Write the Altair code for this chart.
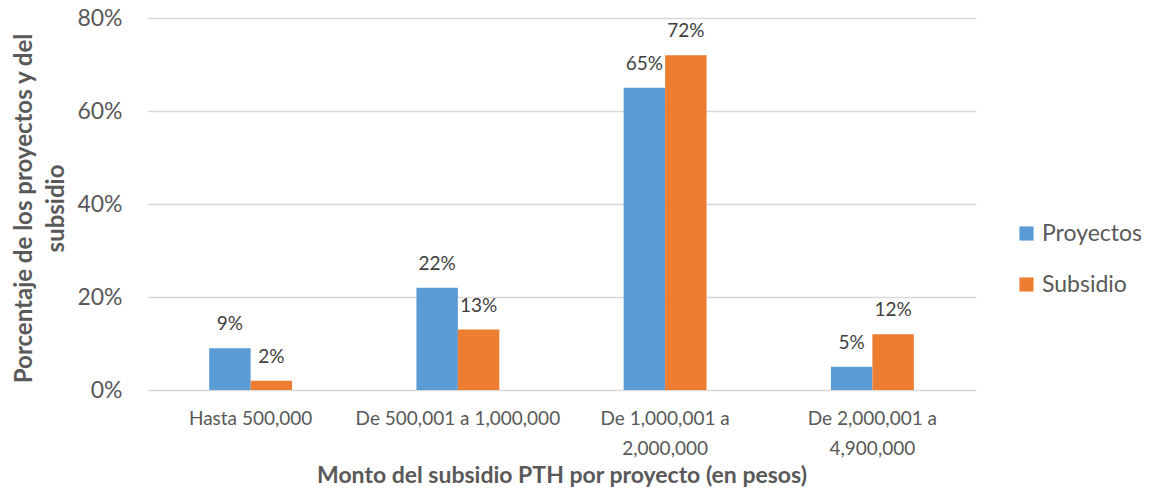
import altair as alt
import pandas as pd

categorias = ["Hasta 500,000", "De 500,001 a 1,000,000", "De 1,000,001 a|2,000,000", "De 2,000,001 a|4,900,000"]
series = ["Proyectos", "Subsidio"]
proyectos = [0.09, 0.22, 0.65, 0.05]
subsidio = [0.02, 0.13, 0.72, 0.12]
colores = ["#5B9BD5", "#ED7D31"]
y_ticks = [0, 0.2, 0.4, 0.6, 0.8]

rows = []
for c, p, s in zip(categorias, proyectos, subsidio):
    rows.append({"categoria": c, "serie": "Proyectos", "valor": p})
    rows.append({"categoria": c, "serie": "Subsidio", "valor": s})
df = pd.DataFrame(rows)

FONT = "Lato"
GRAY = "#595959"

x_enc = alt.X(
    "categoria:N",
    sort=categorias,
    scale=alt.Scale(paddingInner=0.6, paddingOuter=0.3),
    axis=alt.Axis(
        title="Monto del subsidio PTH por proyecto (en pesos)",
        labelAngle=0,
        labelExpr="split(datum.value, '|')",
        labelFontSize=19,
        labelLineHeight=30,
        labelColor=GRAY,
        labelFont=FONT,
        labelPadding=19,
        labelBaseline="top",
        labelLimit=400,
        ticks=False,
        domain=False,
        titleFont=FONT,
        titleFontSize=23,
        titleFontWeight="bold",
        titleColor=GRAY,
        titleY=85,
        titleBaseline="middle",
    ),
)
xoff = alt.XOffset("serie:N", sort=series, scale=alt.Scale(paddingInner=0, paddingOuter=0))
y_enc = alt.Y(
    "valor:Q",
    scale=alt.Scale(domain=[0, 0.8], nice=False),
    axis=alt.Axis(
        values=y_ticks,
        format=".0%",
        title=["Porcentaje de los proyectos y del", "subsidio"],
        domain=False,
        ticks=False,
        gridColor="#D9D9D9",
        gridWidth=1.3,
        labelFontSize=23,
        labelColor=GRAY,
        labelFont=FONT,
        labelPadding=25,
        titleFont=FONT,
        titleFontSize=24,
        titleFontWeight="bold",
        titleColor=GRAY,
        titleX=-123,
        titleY=190,
        titleAlign="center",
        titleBaseline="middle",
        titleLineHeight=32,
    ),
)

base = alt.Chart(df)

bars = base.mark_bar().encode(
    x=x_enc,
    xOffset=xoff,
    y=y_enc,
    color=alt.Color(
        "serie:N",
        sort=series,
        scale=alt.Scale(domain=series, range=colores),
        legend=alt.Legend(
            title=None,
            orient="none",
            legendX=868,
            legendY=204,
            symbolType="square",
            symbolSize=200,
            symbolStrokeWidth=0,
            labelFontSize=23,
            labelFont=FONT,
            labelColor=GRAY,
            labelOffset=4,
            labelLimit=300,
            rowPadding=27,
        ),
    ),
)

labels = base.mark_text(
    font=FONT, fontSize=19, color="#404040", baseline="middle", dy=-24
).encode(
    x=alt.X("categoria:N", sort=categorias),
    xOffset=alt.XOffset("serie:N", sort=series),
    y="valor:Q",
    text=alt.Text("valor:Q", format=".0%"),
)

chart = (
    alt.layer(bars, labels)
    .properties(
        width=829,
        height=372,
        autosize=alt.AutoSizeParams(type="none"),
        padding={"left": 139, "top": 10, "right": 170, "bottom": 97},
    )
    .configure_view(stroke=None)
)

chart.save("out.html", embed_options={"renderer": "svg", "actions": False})
